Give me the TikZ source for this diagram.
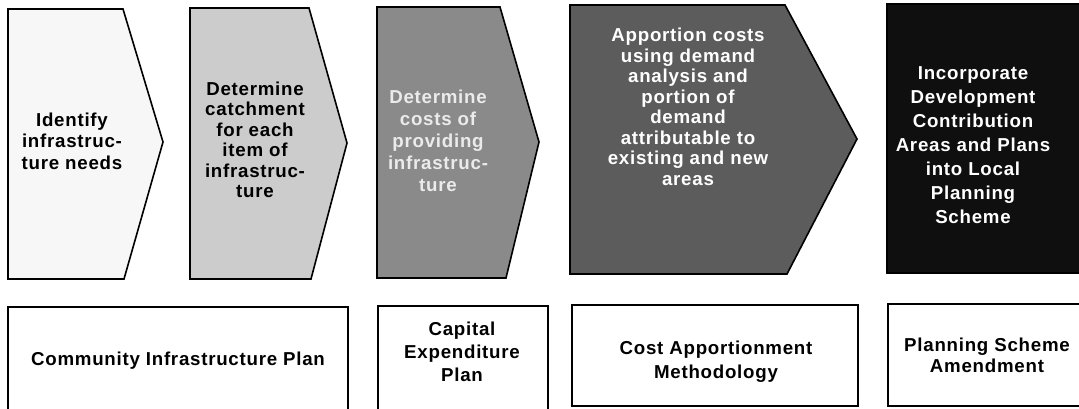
\documentclass[tikz,border=0pt]{standalone}
\usepackage{fontspec}
\setmainfont{Liberation Sans}[LetterSpace=4]
\definecolor{fillA}{gray}{0.97}
\definecolor{fillB}{gray}{0.80}
\definecolor{fillC}{gray}{0.54}
\definecolor{fillD}{gray}{0.36}
\definecolor{fillE}{gray}{0.06}
\begin{document}
\begin{tikzpicture}[x=1pt,y=-1pt,
  shp/.style={draw=black, line width=1.6pt, line join=miter},
  boxline/.style={draw=black, line width=1.5pt},
  lbl/.style={font=\bfseries\fontsize{18.7}{21.5}\selectfont, align=center, inner sep=0pt},
  lblw/.style={lbl, text=white}]
\useasboundingbox (0,0) rectangle (1079,408);
\clip (0,0) rectangle (1079,408);
% chevrons
\path[shp, fill=fillA] (8,9) -- (123,9) -- (163,142) -- (124,279) -- (8,279) -- cycle;
\path[shp, fill=fillB] (190,8) -- (309,8) -- (347,143) -- (311,279) -- (190,279) -- cycle;
\path[shp, fill=fillC] (377,7) -- (500,7) -- (539,142) -- (506,278) -- (377,278) -- cycle;
\path[shp, fill=fillD] (570,5) -- (785,5) -- (857,139) -- (787,274) -- (570,274) -- cycle;
\path[shp, fill=fillE] (887,4) rectangle (1090,273);
\node[lbl] (t1) at (72,141) {Identify\\infrastruc-\\ture needs};
\node[lbl, font=\bfseries\fontsize{18.7}{20.5}\selectfont] (t2) at (255,140) {Determine\\catchment\\for each\\item of\\infrastruc-\\ture};
\node[lbl, text=white!92!black, font=\bfseries\fontsize{18.7}{22}\selectfont] (t3) at (438,141) {Determine\\costs of\\providing\\infrastruc-\\ture};
\node[lblw, font=\bfseries\fontsize{18.7}{20.5}\selectfont] (t4) at (688,107) {Apportion costs\\using demand\\analysis and\\portion of\\demand\\attributable to\\existing and new\\areas};
\node[lblw, font=\bfseries\fontsize{18.7}{24}\selectfont] (t5) at (973,145) {Incorporate\\Development\\Contribution\\Areas and Plans\\into Local\\Planning\\Scheme};
% bottom boxes
\path[boxline] (8,307) rectangle (348,420);
\path[boxline] (378,306) rectangle (548,420);
\path[boxline] (572,305) rectangle (858,406);
\path[boxline] (888,304) rectangle (1090,406);
\node[lbl] (b1) at (178,361) {Community Infrastructure Plan};
\node[lbl, font=\bfseries\fontsize{18.7}{23}\selectfont] (b2) at (462,352) {Capital\\Expenditure\\Plan};
\node[lbl, font=\bfseries\fontsize{18.7}{24}\selectfont] (b3) at (716,362) {Cost Apportionment\\Methodology};
\node[lbl, font=\bfseries\fontsize{18.7}{21}\selectfont] (b4) at (987,355) {Planning Scheme\\Amendment};
\end{tikzpicture}
\end{document}
